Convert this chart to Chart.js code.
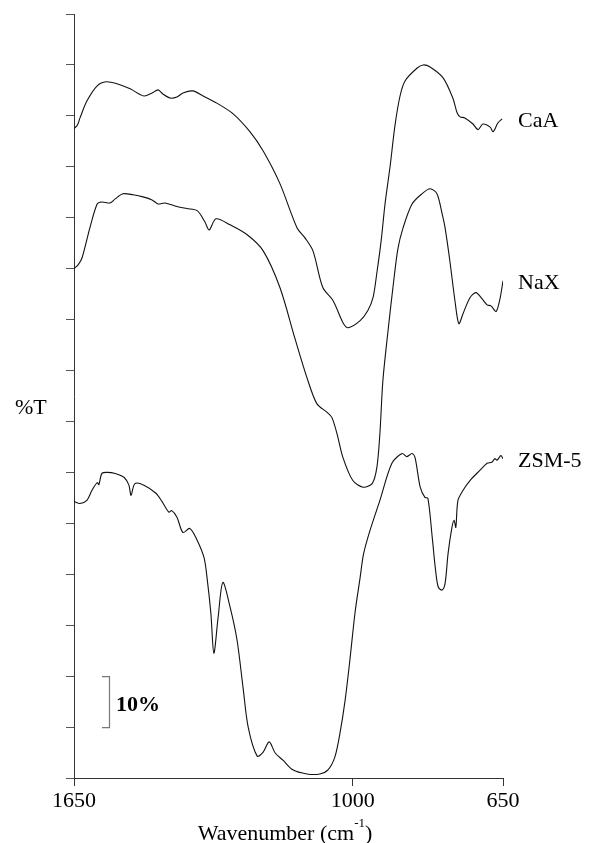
<!DOCTYPE html>
<html><head><meta charset="utf-8">
<script src="https://cdn.jsdelivr.net/npm/chart.js@4.4.1/dist/chart.umd.min.js"></script>
<style>html,body{margin:0;padding:0;background:#fff}#wrap{width:589px;height:843px;position:relative}</style>
</head><body><div id="wrap"><canvas id="c"></canvas></div>
<script>
// ---- data (wavenumber in cm-1, offset %T) ----
const xTickValues = [1650, 1000, 650];
const seriesNames = ['CaA', 'NaX', 'ZSM-5'];

const caaWn = [1650,1642,1636,1620,1596,1575,1550,1519,1487,1468,1454,1443,1426,1410,1396,1373,1349,1317,1279,1240,1209,1170,1130,1112,1093,1070,1046,1023,1011,983,965,953,944,934,925,913,902,890,878,850,836,820,790,767,757,750,739,720,708,697,680,673,662,652];
const caaT  = [127.5,128.2,129.6,132.9,135.9,136.7,136.3,135.3,133.9,134.5,135.1,134.3,133.5,133.7,134.5,134.9,133.9,132.5,130.4,126.9,123.1,116.7,108.0,106.1,103.5,96.3,93.7,89.4,88.4,89.8,91.8,94.3,99.2,105.5,112.7,120.2,128.0,133.9,136.9,139.4,140.0,139.6,137.5,133.5,130.6,129.8,129.6,128.4,127.3,128.4,127.8,126.9,128.6,129.4];

const naxWn = [1650,1640,1631,1613,1596,1585,1566,1554,1536,1512,1489,1468,1454,1438,1410,1387,1363,1345,1335,1319,1286,1247,1209,1170,1135,1107,1084,1060,1049,1037,1023,1000,976,955,944,937,930,918,906,895,883,862,839,820,804,792,785,774,762,753,743,727,713,699,687,678,666,657,650];
const naxT  = [100.0,100.8,102.2,108.0,112.7,113.1,112.9,113.7,114.7,114.5,114.1,113.5,112.7,112.9,112.2,111.8,111.4,109.2,107.6,109.8,108.6,106.7,103.5,96.3,86.3,78.6,73.5,71.8,70.8,67.6,62.9,58.4,57.1,57.8,61.0,67.6,78.0,87.8,96.7,103.9,108.0,112.7,114.7,115.7,114.7,110.8,108.0,101.6,93.7,89.2,91.2,94.3,95.3,94.1,92.9,92.7,91.6,94.1,97.6];

const zsmWn = [1650,1636,1620,1608,1596,1592,1585,1573,1554,1533,1522,1517,1508,1487,1459,1445,1429,1422,1410,1396,1380,1363,1347,1340,1331,1324,1314,1303,1286,1270,1256,1244,1223,1209,1195,1181,1163,1140,1107,1077,1058,1042,1030,1018,1007,995,983,975,960,937,909,885,874,862,855,843,832,825,815,808,801,792,785,778,769,764,760,755,743,727,704,687,676,669,664,655,650];
const zsmT  = [54.3,53.9,54.5,56.5,58.0,57.6,59.8,60.0,59.8,59.0,57.5,55.5,57.8,57.5,55.9,54.3,52.2,52.5,51.2,48.2,49.0,46.7,43.3,39.4,32.4,24.5,31.6,38.4,33.5,27.1,17.8,10.0,4.3,5.1,7.1,4.9,3.5,1.6,0.8,0.8,1.6,4.1,8.8,15.3,23.1,32.4,39.4,44.0,48.6,54.5,61.8,63.7,63.1,63.7,62.9,57.1,55.1,54.9,47.3,41.4,37.5,36.9,38.2,44.1,49.2,50.6,49.2,54.5,56.5,58.4,60.4,61.8,62.0,62.7,62.4,63.3,62.7];

const scaleBarFrom = 10, scaleBarTo = 20, scaleBarText = '10%';

// ---- chart ----
const SERIF = '"Liberation Serif","Times New Roman",serif';
const pts = (wn, t) => wn.map((w, i) => ({x: w, y: t[i]}));
const mk = (name, wn, t) => ({label: name, data: pts(wn, t), borderColor: '#111', borderWidth: 1.1,
  pointRadius: 0, fill: false, tension: 0.3});

const labelPlugin = {
  id: 'labels',
  afterDraw(chart) {
    const ctx = chart.ctx, xs = chart.scales.x, ys = chart.scales.y;
    ctx.save();
    ctx.fillStyle = '#000';
    ctx.textBaseline = 'alphabetic';
    ctx.textAlign = 'left';
    ctx.font = '22px ' + SERIF;
    chart.data.datasets.forEach(ds => {
      const last = ds.data[ds.data.length - 1];
      ctx.fillText(ds.label, xs.right + 15, ys.getPixelForValue(last.y) + 8);
    });
    ctx.fillText('%T', 15, 414);
    const y1 = ys.getPixelForValue(scaleBarTo), y2 = ys.getPixelForValue(scaleBarFrom);
    ctx.strokeStyle = '#777'; ctx.lineWidth = 1.2;
    ctx.beginPath();
    ctx.moveTo(102, y1 + 0.5); ctx.lineTo(109.5, y1 + 0.5); ctx.lineTo(109.5, y2 + 0.5); ctx.lineTo(102, y2 + 0.5);
    ctx.stroke();
    ctx.font = 'bold 22px ' + SERIF;
    ctx.fillText(scaleBarText, 116, (y1 + y2) / 2 + 9);
    const base = 840;
    ctx.font = '22px ' + SERIF;
    const t1 = 'Wavenumber (cm', t3 = ')';
    const w1 = ctx.measureText(t1).width, w3 = ctx.measureText(t3).width;
    ctx.font = '13px ' + SERIF;
    const w2 = ctx.measureText('-1').width;
    const total = w1 + w2 + w3;
    let x = 285 - total / 2;
    ctx.font = '22px ' + SERIF;
    ctx.fillText(t1, x, base); x += w1;
    ctx.font = '13px ' + SERIF;
    ctx.fillText('-1', x, base - 13); x += w2;
    ctx.font = '22px ' + SERIF;
    ctx.fillText(t3, x, base);
    ctx.restore();
  }
};

new Chart(document.getElementById('c'), {
  type: 'line',
  data: { datasets: [mk(seriesNames[0], caaWn, caaT), mk(seriesNames[1], naxWn, naxT), mk(seriesNames[2], zsmWn, zsmT)] },
  options: {
    responsive: true, maintainAspectRatio: false, animation: false,
    layout: { padding: { top: 14, right: 86, bottom: 0, left: 0 } },
    plugins: { legend: { display: false }, tooltip: { enabled: false } },
    scales: {
      x: {
        type: 'linear', reverse: true, min: 650, max: 1650,
        afterBuildTicks: s => { s.ticks = xTickValues.map(v => ({value: v})); },
        afterFit: s => { s.height = 65; },
        ticks: { color: '#000', font: { family: SERIF, size: 22 }, padding: 2, maxRotation: 0, autoSkip: false,
                 callback: v => String(v) },
        grid: { display: true, drawOnChartArea: false, drawTicks: true, tickLength: 8, color: '#333' },
        border: { display: true, color: '#333', width: 1 }
      },
      y: {
        min: 0, max: 150,
        ticks: { display: false, stepSize: 10 },
        afterFit: s => { s.width = 74; },
        grid: { display: true, drawOnChartArea: false, drawTicks: true, tickLength: 8, color: '#555' },
        border: { display: true, color: '#333', width: 1 }
      }
    }
  },
  plugins: [labelPlugin]
});
</script>
</body></html>
